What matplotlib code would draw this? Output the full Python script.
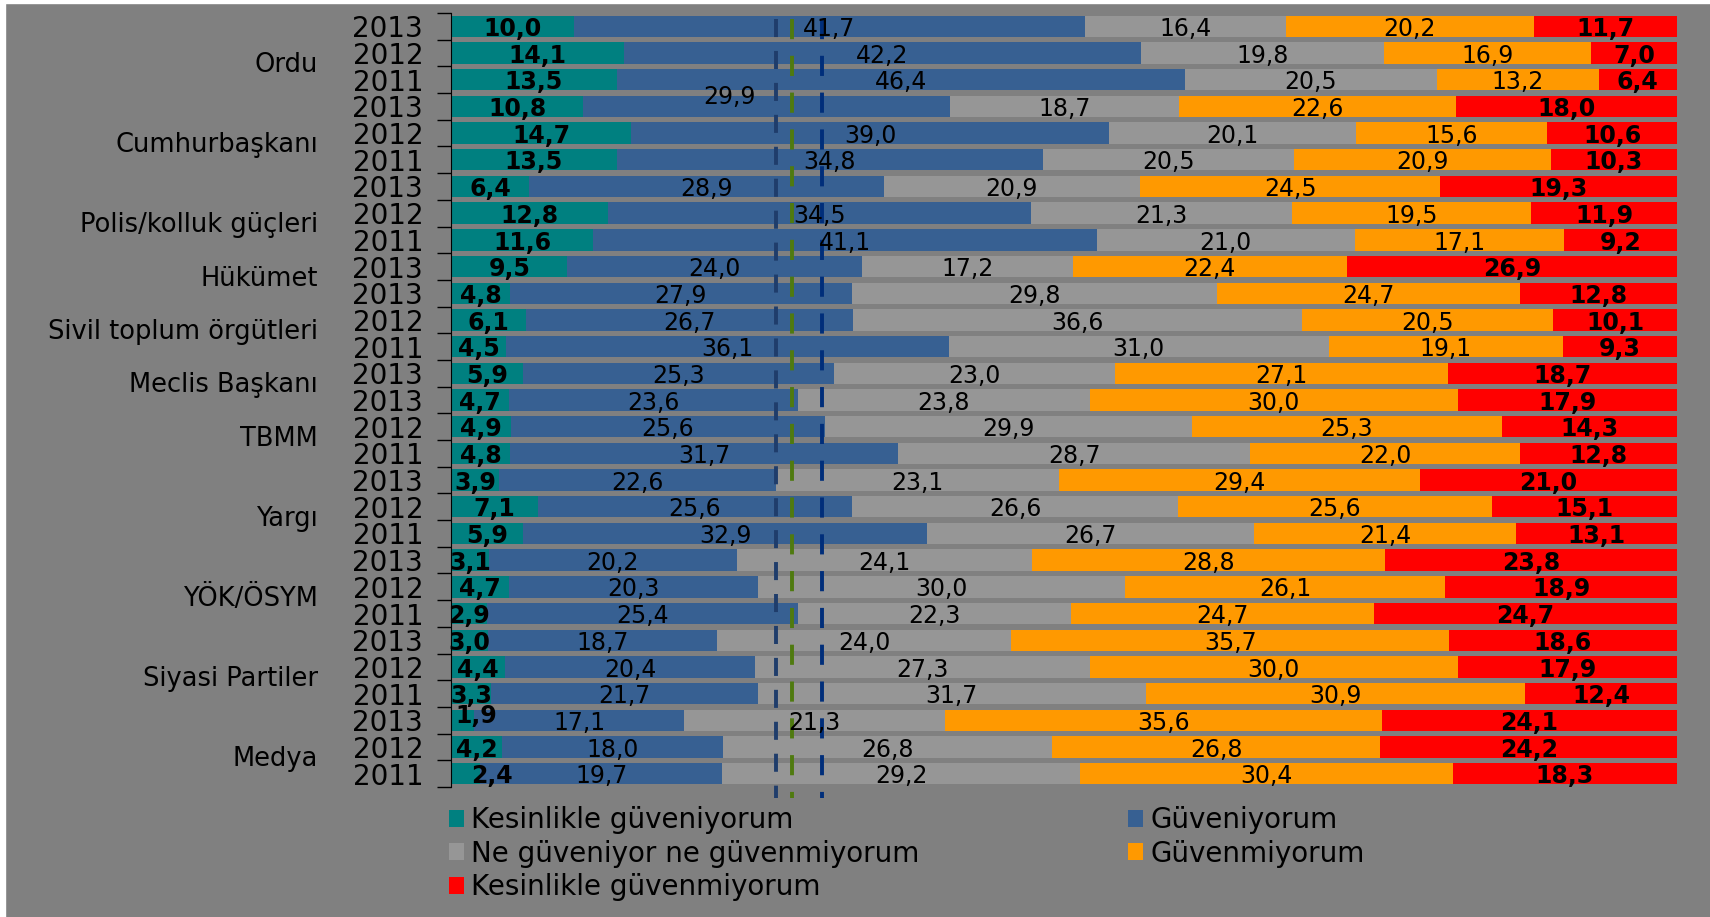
import matplotlib
matplotlib.use("Agg")
from matplotlib import pyplot as plt
from matplotlib.patches import Rectangle
import numpy as np

plt.rcParams['font.family'] = ['DejaVu Sans']
plt.rcParams['lines.scale_dashes'] = False

# groups (institution, number of rows) from top to bottom
groups = ['Ordu', 'Cumhurbaşkanı', 'Polis/kolluk güçleri', 'Hükümet', 'Sivil toplum örgütleri',
          'Meclis Başkanı', 'TBMM', 'Yargı', 'YÖK/ÖSYM', 'Siyasi Partiler', 'Medya']
group_sizes = [3, 3, 3, 1, 3, 1, 3, 3, 3, 3, 3]
years = ['2013', '2012', '2011', '2013', '2012', '2011', '2013', '2012', '2011', '2013',
         '2013', '2012', '2011', '2013', '2013', '2012', '2011', '2013', '2012', '2011',
         '2013', '2012', '2011', '2013', '2012', '2011', '2013', '2012', '2011']

series_names = ['Kesinlikle güveniyorum', 'Güveniyorum', 'Ne güveniyor ne güvenmiyorum',
                'Güvenmiyorum', 'Kesinlikle güvenmiyorum']
colors = ['#008080', '#376092', '#969696', '#FF9900', '#FF0000']

kesin_guven = [10.0, 14.1, 13.5, 10.8, 14.7, 13.5, 6.4, 12.8, 11.6, 9.5,
               4.8, 6.1, 4.5, 5.9, 4.7, 4.9, 4.8, 3.9, 7.1, 5.9,
               3.1, 4.7, 2.9, 3.0, 4.4, 3.3, 1.9, 4.2, 2.4]
guven = [41.7, 42.2, 46.4, 29.9, 39.0, 34.8, 28.9, 34.5, 41.1, 24.0,
         27.9, 26.7, 36.1, 25.3, 23.6, 25.6, 31.7, 22.6, 25.6, 32.9,
         20.2, 20.3, 25.4, 18.7, 20.4, 21.7, 17.1, 18.0, 19.7]
ne_ne = [16.4, 19.8, 20.5, 18.7, 20.1, 20.5, 20.9, 21.3, 21.0, 17.2,
         29.8, 36.6, 31.0, 23.0, 23.8, 29.9, 28.7, 23.1, 26.6, 26.7,
         24.1, 30.0, 22.3, 24.0, 27.3, 31.7, 21.3, 26.8, 29.2]
guvenmiyor = [20.2, 16.9, 13.2, 22.6, 15.6, 20.9, 24.5, 19.5, 17.1, 22.4,
              24.7, 20.5, 19.1, 27.1, 30.0, 25.3, 22.0, 29.4, 25.6, 21.4,
              28.8, 26.1, 24.7, 35.7, 30.0, 30.9, 35.6, 26.8, 30.4]
kesin_guvenmiyor = [11.7, 7.0, 6.4, 18.0, 10.6, 10.3, 19.3, 11.9, 9.2, 26.9,
                    12.8, 10.1, 9.3, 18.7, 17.9, 14.3, 12.8, 21.0, 15.1, 13.1,
                    23.8, 18.9, 24.7, 18.6, 17.9, 12.4, 24.1, 24.2, 18.3]

# dashed reference lines (percent) and colours
ref_values = [26.5, 27.85, 30.3]
ref_colors = ['#1F3D6B', '#4F7A0F', '#002E7A']
ref_dashes = [(13, 10), (14.5, 12), (14.5, 12)]

# a few labels are nudged in the original (row, series): (dx %, dy rows)
label_nudge = {(3, 1): (-3.0, -0.45), (26, 0): (1.1, -0.26), (28, 0): (2.1, 0.0)}

data = np.array([kesin_guven, guven, ne_ne, guvenmiyor, kesin_guvenmiyor], dtype=float)
pct = data / data.sum(axis=0) * 100
n = len(years)
y = np.arange(n)

fig = plt.figure(figsize=(17.1, 9.17), dpi=100, facecolor='#808080')
ax = fig.add_axes([451 / 1710, 1 - 787 / 917, 1226 / 1710, 774 / 917])
ax.set_facecolor('#808080')

left = np.zeros(n)
for i, (name, c) in enumerate(zip(series_names, colors)):
    ax.barh(y, pct[i], left=left, height=0.8, color=c, label=name, zorder=2)
    for j in range(n):
        dx, dy = label_nudge.get((j, i), (0, 0))
        ax.text(left[j] + pct[i][j] / 2 + dx, y[j] + dy + 0.1,
                f"{data[i][j]:.1f}".replace('.', ','),
                ha='center', va='center', fontsize=17, color='black',
                fontweight='bold' if i in (0, 4) else 'normal', zorder=5)
    left += pct[i]

for v, c, d in zip(ref_values, ref_colors, ref_dashes):
    ax.plot([v, v], [-0.26, 28.9], color=c, lw=2.8, linestyle=(0, d),
            clip_on=False, zorder=4)

ax.set_xlim(0, 100)
ax.set_ylim(n - 0.5, -0.5)

# ticks at row boundaries, year labels at row centres
ax.set_yticks(np.arange(-0.5, n, 1))
ax.set_yticklabels([])
ax.tick_params(axis='y', which='major', length=10, width=1, color='black', direction='out')
ax.set_yticks(y, minor=True)
ax.set_yticklabels(years, minor=True, fontsize=20)
ax.tick_params(axis='y', which='minor', length=0, pad=20)
ax.xaxis.set_visible(False)
for s in ['top', 'right', 'bottom']:
    ax.spines[s].set_visible(False)
ax.spines['left'].set_color('black')

# group labels
trans = matplotlib.transforms.blended_transform_factory(ax.transAxes, ax.transData)
start = 0
for g, size in zip(groups, group_sizes):
    center = start + (size - 1) / 2
    ax.text(-0.1085, center + 0.45, g, transform=trans, ha='right', va='center',
            fontsize=18.5, color='black')
    start += size

# legend, row-major order in two columns
handles, labels = ax.get_legend_handles_labels()
order = [0, 2, 4, 1, 3]
fig.legend([handles[k] for k in order], [labels[k] for k in order],
           loc='upper left', bbox_to_anchor=(449 / 1710, 1 - 806 / 917), ncol=2,
           frameon=False, fontsize=20, handlelength=0.55, handleheight=0.55,
           handletextpad=0.25, columnspacing=7.5, labelspacing=0.2,
           borderpad=0, borderaxespad=0)

# thin white edge at left and top like the original export
fig.patches.append(Rectangle((0, 0), 5 / 1710, 1, transform=fig.transFigure,
                             color='white', zorder=10))
fig.patches.append(Rectangle((0, 1 - 3 / 917), 1, 3 / 917, transform=fig.transFigure,
                             color='white', zorder=10))

fig.savefig('out.png', dpi=100, facecolor=fig.get_facecolor())
